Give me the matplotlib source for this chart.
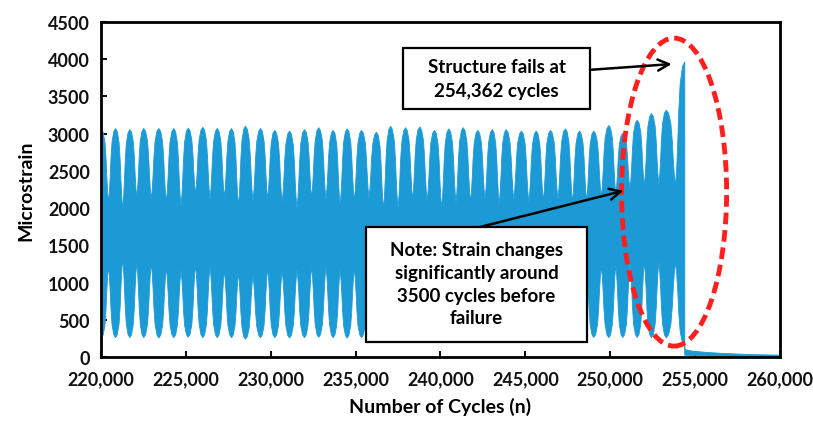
import matplotlib
matplotlib.use("Agg")
import matplotlib.pyplot as plt
from matplotlib.patches import Ellipse, Rectangle
from matplotlib.ticker import FuncFormatter, MultipleLocator

plt.rcParams['font.family'] = ['Lato', 'DejaVu Sans']
plt.rcParams['font.weight'] = 'bold'

# ---- data ----
# centre of each strain lobe (cycles) and its max / min microstrain
lobe_x = [220000, 220830, 221670, 222490, 223380, 224260, 225110, 225970, 226820, 227660,
          228480, 229370, 230210, 231080, 231960, 232800, 233650, 234470, 235320, 236200,
          237030, 237910, 238750, 239620, 240460, 241310, 242170, 243020, 243840, 244740,
          245610, 246450, 247330, 248160, 249000, 249890, 250710, 251560, 252400, 253270]
lobe_top = [3060, 3075, 3060, 3075, 3075, 3075, 3080, 3090, 3075, 3075,
            3105, 3075, 3050, 3040, 3060, 3085, 3050, 3070, 3050, 3025,
            3105, 3085, 3095, 3050, 3070, 3085, 3050, 3060, 3060, 3040,
            3040, 3050, 3070, 3040, 3040, 3115, 3010, 3185, 3275, 3320]
lobe_bot = [270, 270, 270, 270, 265, 270, 275, 270, 270, 270,
            250, 270, 270, 265, 270, 275, 270, 265, 270, 270,
            270, 265, 270, 275, 270, 270, 265, 270, 270, 270,
            272, 272, 270, 272, 272, 270, 272, 272, 270, 268]
# band edges in the narrow "neck" after each lobe
neck_top = [2080, 1990, 2145, 2120, 2080, 2030, 2190, 2120, 2145, 2030,
            2100, 2120, 2080, 2000, 2140, 2120, 2040, 2100, 2140, 1990,
            2010, 2120, 2100, 2000, 2080, 2080, 2120, 2055, 2120, 2080,
            2100, 2120, 2080, 2100, 2150, 2190, 2255, 2300, 2320, 2300]
neck_bot = [1230, 1330, 1280, 1270, 1210, 1175, 1250, 1230, 1175, 1140,
            1105, 1205, 1175, 1180, 1230, 1230, 1180, 1200, 1230, 1180,
            1200, 1180, 1210, 1200, 1175, 1190, 1200, 1180, 1210, 1200,
            1180, 1150, 1140, 1200, 1230, 1250, 1270, 1290, 1290, 1290]
# envelope level across half a lobe (0 = lobe centre, 1 = neck)
shape_u = [0.0, 0.25, 0.5, 0.65, 0.75, 0.87, 1.0]
shape_level = [1.0, 0.96, 0.82, 0.6, 0.37, 0.15, 0.0]

fail_x = 254362
spike_top = 3970
spike_bot = 150
tail_x = [254362, 254800, 255500, 256500, 257500, 258500, 260000]
tail_top = [110, 90, 75, 60, 50, 42, 35]
tail_bot = [35, 30, 25, 20, 15, 10, 10]

blue = '#1c9ad6'

# ---- build the envelope of the dense signal ----
env_x, env_up, env_lo = [], [], []
centres = lobe_x + [fail_x]
tops = lobe_top + [spike_top]
bots = lobe_bot + [spike_bot]
for i, c in enumerate(centres):
    # rising half (from previous neck)
    if i > 0:
        h = (c - centres[i - 1]) / 2
        nt, nb = neck_top[i - 1], neck_bot[i - 1]
        for u, lv in zip(shape_u[::-1], shape_level[::-1]):
            env_x.append(c - u * h)
            env_up.append(nt + lv * (tops[i] - nt))
            env_lo.append(nb - lv * (nb - bots[i]))
    else:
        env_x.append(c)
        env_up.append(tops[i])
        env_lo.append(bots[i])
    if i == len(centres) - 1:
        break
    # falling half (to next neck)
    h = (centres[i + 1] - c) / 2
    nt, nb = neck_top[i], neck_bot[i]
    for u, lv in zip(shape_u[1:], shape_level[1:]):
        env_x.append(c + u * h)
        env_up.append(nt + lv * (tops[i] - nt))
        env_lo.append(nb - lv * (nb - bots[i]))

env_x += tail_x
env_up += tail_top
env_lo += tail_bot

fig = plt.figure(figsize=(8.13, 4.27), dpi=100)
ax = fig.add_axes([0.1242, 0.1609, 0.8352, 0.7859])

ax.fill_between(env_x, env_lo, env_up, color=blue, lw=0.6, edgecolor=blue, zorder=2)

ax.set_xlim(220000, 260000)
ax.set_ylim(0, 4500)
ax.xaxis.set_major_locator(MultipleLocator(5000))
ax.yaxis.set_major_locator(MultipleLocator(500))
ax.xaxis.set_major_formatter(FuncFormatter(lambda v, p: f'{int(v):,}'))
ax.tick_params(direction='in', length=4, width=1.5, labelsize=13, colors='#111111')
ax.tick_params(axis='x', pad=9)
ax.tick_params(axis='y', pad=8)
for sp in ax.spines.values():
    sp.set_linewidth(2)
    sp.set_color('black')

ax.set_xlabel('Number of Cycles (n)', fontsize=14, fontweight='bold', labelpad=7)
ax.set_ylabel('Microstrain', fontsize=14, fontweight='bold', labelpad=10)

# red dashed ellipse around the failure region
ell = Ellipse((253760, 2215), width=6190, height=4130, fill=False, edgecolor='#ff1f1f',
              lw=3.5, linestyle=(0, (2.4, 1.2)), zorder=5)
ax.add_patch(ell)

# annotation boxes
box1 = Rectangle((237790, 3330), 11020, 816, facecolor='white', edgecolor='black', lw=1.6, zorder=6)
ax.add_patch(box1)
ax.text(243300, 3737, 'Structure fails at\n254,362 cycles', ha='center', va='center',
        fontsize=13.5, fontweight='bold', linespacing=1.45, zorder=7)

box2 = Rectangle((235610, 205), 13020, 1542, facecolor='white', edgecolor='black', lw=1.6, zorder=6)
ax.add_patch(box2)
ax.text(242120, 985, 'Note: Strain changes\nsignificantly around\n3500 cycles before\nfailure',
        ha='center', va='center', fontsize=13.5, fontweight='bold', linespacing=1.4, zorder=7)

arrow = dict(arrowstyle='->', lw=1.8, color='black', mutation_scale=20, shrinkA=0, shrinkB=0)
ax.annotate('', xy=(253620, 3932), xytext=(248810, 3855), arrowprops=arrow, zorder=8)
ax.annotate('', xy=(250770, 2233), xytext=(242330, 1747), arrowprops=arrow, zorder=8)

fig.savefig('out.png', dpi=100)
